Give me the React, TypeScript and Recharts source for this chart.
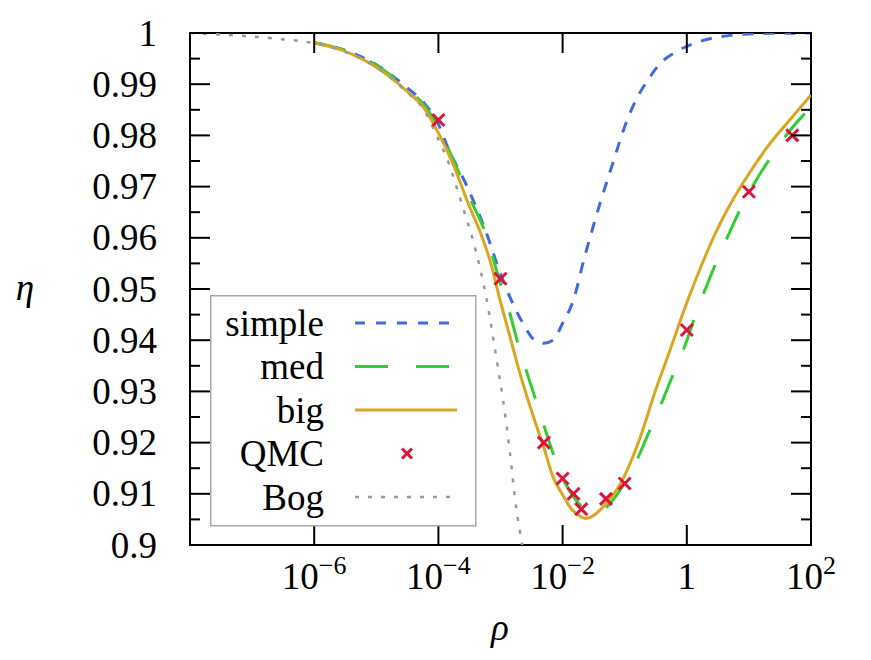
import React from "react";
import { ComposedChart, Line, Scatter, XAxis, YAxis, Legend, ReferenceArea } from "recharts";

// Chart box and plot frame (pixels)
const W = 871;
const H = 660;
const PLOT_LEFT = 190;
const PLOT_RIGHT = 811;
const PLOT_TOP = 33;
const PLOT_BOTTOM = 545;
const FONT = "'Liberation Serif', 'DejaVu Serif', 'Noto Serif', serif";

// Ticks
const xTicks = [1e-6, 1e-4, 1e-2, 1, 1e2];
const xTickLabels = [
  ["10", "−6"],
  ["10", "−4"],
  ["10", "−2"],
  ["1", ""],
  ["10", "2"],
];
const yTicks = [
  0.9, 0.905, 0.91, 0.915, 0.92, 0.925, 0.93, 0.935, 0.94, 0.945, 0.95, 0.955, 0.96, 0.965, 0.97, 0.975, 0.98,
  0.985, 0.99, 0.995, 1,
];

// simple (blue dashed)
const simpleRho = [
  1e-6, 3e-6, 1e-5, 3e-5, 6e-5, 1e-4, 1.4e-4, 2.9e-4, 6.8e-4, 8.7e-4, 1.6e-3, 2.3e-3, 3.4e-3, 4.9e-3, 7e-3, 1e-2,
  1.5e-2, 2.2e-2, 4e-2, 6.6e-2, 8.4e-2, 0.108, 0.156, 0.23, 0.37, 0.69, 1.6, 5.6, 20, 100,
];
const simpleEta = [
  0.9981, 0.9967, 0.9938, 0.9895, 0.9862, 0.9822, 0.9778, 0.97, 0.9589, 0.955, 0.947, 0.9433, 0.9402, 0.9394, 0.94,
  0.9433, 0.9479, 0.9557, 0.9667, 0.975, 0.979, 0.9828, 0.9872, 0.9906, 0.994, 0.9964, 0.9983, 0.9996, 0.99993,
  0.99998,
];

// med (green long dashes)
const medRho = [
  1e-6, 3e-6, 1e-5, 3e-5, 6e-5, 1e-4, 1.6e-4, 3e-4, 6e-4, 1e-3, 1.3e-3, 2e-3, 3.4e-3, 5.5e-3, 9e-3, 1.5e-2, 2.4e-2,
  3e-2, 4e-2, 6e-2, 8.4e-2, 0.14, 0.23, 0.37, 0.57, 0.88, 1.6, 3, 4.7, 7.2, 13, 25, 46, 100,
];
const medEta = [
  0.9981, 0.9967, 0.9937, 0.9893, 0.9858, 0.9815, 0.9762, 0.9685, 0.9602, 0.951, 0.9468, 0.9385, 0.9297, 0.9218,
  0.9143, 0.9094, 0.9068, 0.9064, 0.9065, 0.9083, 0.9107, 0.9153, 0.9212, 0.927, 0.9326, 0.9381, 0.947, 0.9553,
  0.9606, 0.9655, 0.9712, 0.9765, 0.981, 0.9855,
];

// big (gold solid)
const bigRho = [
  1e-6, 3e-6, 1e-5, 3e-5, 6e-5, 1e-4, 1.7e-4, 3e-4, 5e-4, 7e-4, 1e-3, 1.4e-3, 2e-3, 3.4e-3, 5e-3, 7e-3, 1e-2, 1.3e-2,
  2e-2, 2.3e-2, 3e-2, 4e-2, 6e-2, 8.4e-2, 0.1, 0.18, 0.3, 0.5, 1, 2, 3, 5, 10, 20, 50, 100,
];
const bigEta = [
  0.9981, 0.9965, 0.9933, 0.9888, 0.9852, 0.9805, 0.9746, 0.9668, 0.9603, 0.955, 0.9475, 0.941, 0.934, 0.925, 0.919,
  0.9133, 0.9098, 0.9075, 0.9055, 0.9052, 0.9056, 0.9068, 0.9092, 0.9118, 0.9136, 0.9212, 0.9295, 0.937, 0.9473,
  0.9565, 0.9613, 0.9665, 0.9725, 0.9778, 0.9836, 0.9879,
];

// Bog (grey dotted)
const bogRho = [
  1e-8, 3e-8, 1e-7, 3e-7, 1e-6, 3e-6, 1e-5, 3e-5, 6e-5, 1e-4, 1.3e-4, 2.5e-4, 3.9e-4, 6e-4, 8.7e-4, 1.1e-3, 1.4e-3,
  1.8e-3, 2.2e-3, 2.5e-3,
];
const bogEta = [
  0.99998, 0.9997, 0.9993, 0.9988, 0.998, 0.9964, 0.9933, 0.9886, 0.9848, 0.9792, 0.9762, 0.9658, 0.958, 0.9479,
  0.9361, 0.9283, 0.9186, 0.907, 0.9005, 0.8955,
];

// QMC points (red crosses)
const qmcRho = [1e-4, 1e-3, 5e-3, 1e-2, 1.5e-2, 2e-2, 5e-2, 0.1, 1, 10, 50];
const qmcEta = [0.983, 0.952, 0.92, 0.913, 0.91, 0.907, 0.909, 0.912, 0.942, 0.969, 0.98];

const toPoints = (rho: number[], eta: number[]) => rho.map((r, i) => ({ rho: r, eta: eta[i] }));

const simpleData = toPoints(simpleRho, simpleEta);
const medData = toPoints(medRho, medEta);
const bigData = toPoints(bigRho, bigEta);
const bogData = toPoints(bogRho, bogEta);
const qmcData = toPoints(qmcRho, qmcEta);

const BLUE = "#4169e1";
const GREEN = "#32cd32";
const GOLD = "#daa520";
const RED = "#dc143c";
const GREY = "#9a9a9a";

// legend entries
const legendItems = [
  { name: "simple", color: BLUE, dash: "10 11", width: 3, marker: false },
  { name: "med", color: GREEN, dash: "33 28", width: 3, marker: false },
  { name: "big", color: GOLD, dash: undefined, width: 3, marker: false },
  { name: "QMC", color: RED, dash: undefined, width: 3, marker: true },
  { name: "Bog", color: GREY, dash: "4 9", width: 2.5, marker: false },
];

const Cross = ({ cx, cy, r = 6, w = 3 }: { cx: number; cy: number; r?: number; w?: number }) => (
  <g stroke={RED} strokeWidth={w} strokeLinecap="butt">
    <line x1={cx - r} y1={cy - r} x2={cx + r} y2={cy + r} />
    <line x1={cx - r} y1={cy + r} x2={cx + r} y2={cy - r} />
  </g>
);

// x ticks: label below, inward tick marks on bottom and top edges
const renderXTick = (props: any) => {
  const { x, payload } = props;
  const idx = xTicks.findIndex((t) => Math.abs(Math.log10(t) - Math.log10(payload.value)) < 1e-6);
  const [base, exp] = xTickLabels[idx] ?? [String(payload.value), ""];
  return (
    <g>
      <line x1={x} x2={x} y1={PLOT_BOTTOM} y2={PLOT_BOTTOM - 20} stroke="#000" strokeWidth={2} />
      <line x1={x} x2={x} y1={PLOT_TOP} y2={PLOT_TOP + 20} stroke="#000" strokeWidth={2} />
      <text x={x} y={589} textAnchor="middle" style={{ fontFamily: FONT }} fontSize={37} fill="#000">
        {base}
        {exp ? (
          <tspan dy={-15} fontSize={26}>
            {exp}
          </tspan>
        ) : null}
      </text>
    </g>
  );
};

// y ticks: long ticks with labels every 0.01, short ones in between, on both sides
const renderYTick = (props: any) => {
  const { y, payload } = props;
  const v = payload.value as number;
  const major = Math.round(v * 1000) % 10 === 0;
  const len = major ? 20 : 10;
  return (
    <g>
      <line x1={PLOT_LEFT} x2={PLOT_LEFT + len} y1={y} y2={y} stroke="#000" strokeWidth={2} />
      <line x1={PLOT_RIGHT} x2={PLOT_RIGHT - len} y1={y} y2={y} stroke="#000" strokeWidth={2} />
      {major && (
        <text x={157} y={y + 12.5} textAnchor="end" style={{ fontFamily: FONT }} fontSize={37} fill="#000">
          {String(parseFloat(v.toFixed(2)))}
        </text>
      )}
    </g>
  );
};

const renderLegend = () => (
  <svg width={267} height={232} style={{ display: "block" }}>
    <rect x={0.75} y={0.75} width={265} height={230} fill="#fff" stroke="#a8a8a8" strokeWidth={1.5} />
    {legendItems.map((item, i) => {
      const cy = 28 + i * 43.5;
      return (
        <g key={item.name}>
          <text x={114} y={cy + 12.5} textAnchor="end" style={{ fontFamily: FONT }} fontSize={37} fill="#000">
            {item.name}
          </text>
          {item.marker ? (
            <Cross cx={197} cy={cy} r={5} w={3} />
          ) : (
            <line
              x1={145}
              x2={247}
              y1={cy}
              y2={cy}
              stroke={item.color}
              strokeWidth={item.width}
              strokeDasharray={item.dash}
            />
          )}
        </g>
      );
    })}
  </svg>
);

export default function App() {
  return (
    <div style={{ position: "absolute", left: 0, top: 0, width: W, height: H, background: "#fff" }}>
      <ComposedChart
        width={W}
        height={H}
        margin={{ top: PLOT_TOP, right: W - PLOT_RIGHT, bottom: 0, left: 0 }}
      >
        <XAxis
          dataKey="rho"
          type="number"
          scale="log"
          domain={[1e-8, 1e2]}
          allowDataOverflow
          ticks={xTicks}
          interval={0}
          tick={renderXTick}
          tickLine={false}
          axisLine={false}
          height={H - PLOT_BOTTOM}
          label={() => (
            <text x={500} y={640} textAnchor="middle" style={{ fontFamily: FONT }} fontSize={37} fontStyle="italic">
              ρ
            </text>
          )}
        />
        <YAxis
          type="number"
          domain={[0.9, 1]}
          allowDataOverflow
          ticks={yTicks}
          interval={0}
          tick={renderYTick}
          tickLine={false}
          axisLine={false}
          width={PLOT_LEFT}
          label={() => (
            <text x={25} y={300} textAnchor="middle" style={{ fontFamily: FONT }} fontSize={37} fontStyle="italic">
              η
            </text>
          )}
        />
        <ReferenceArea x1={1e-8} x2={1e2} y1={0.9} y2={1} fill="none" stroke="#000" strokeWidth={2} />
        <Line
          data={simpleData}
          dataKey="eta"
          name="simple"
          type="monotone"
          stroke={BLUE}
          strokeWidth={3}
          strokeDasharray="11 10"
          dot={false}
          activeDot={false}
          isAnimationActive={false}
        />
        <Line
          data={medData}
          dataKey="eta"
          name="med"
          type="monotone"
          stroke={GREEN}
          strokeWidth={3}
          strokeDasharray="31 28"
          dot={false}
          activeDot={false}
          isAnimationActive={false}
        />
        <Line
          data={bigData}
          dataKey="eta"
          name="big"
          type="monotone"
          stroke={GOLD}
          strokeWidth={3}
          dot={false}
          activeDot={false}
          isAnimationActive={false}
        />
        <Line
          data={bogData}
          dataKey="eta"
          name="Bog"
          type="monotone"
          stroke={GREY}
          strokeWidth={2.5}
          strokeDasharray="4 9"
          dot={false}
          activeDot={false}
          isAnimationActive={false}
        />
        <Scatter
          data={qmcData}
          dataKey="eta"
          name="QMC"
          shape={(p: any) => <Cross cx={p.cx} cy={p.cy} r={6} w={3} />}
          isAnimationActive={false}
        />
        <Legend
          layout="vertical"
          align="center"
          verticalAlign="middle"
          content={renderLegend}
          wrapperStyle={{ position: "absolute", left: 210, top: 295, width: 267, height: 232 }}
        />
      </ComposedChart>
    </div>
  );
}
